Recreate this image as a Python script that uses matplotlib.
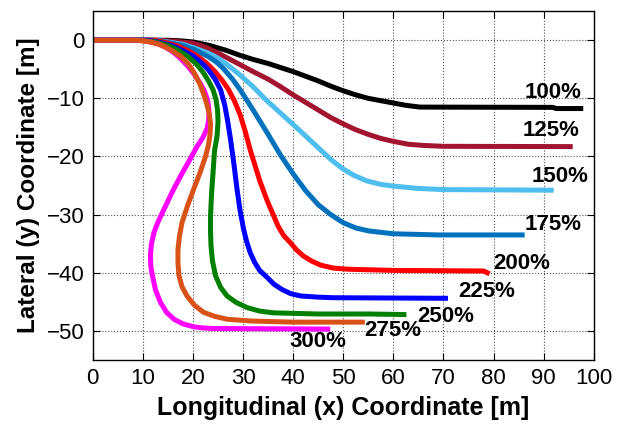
import matplotlib
matplotlib.use("Agg")
import matplotlib.pyplot as plt

plt.rcParams['font.family'] = ['Liberation Sans', 'DejaVu Sans']

# Vehicle paths (x, y) in metres for each steering input level
x_100 = [0, 15, 17.5, 20, 23.3, 26.5, 29.4, 32, 35, 37.5, 40, 42.5, 45, 47.5, 50, 52.5,
         55, 57.5, 60, 62.5, 65.3, 91.8, 92.5, 97.9]
y_100 = [0, 0, -0.1, -0.3, -0.9, -1.7, -2.6, -3.3, -4.0, -4.7, -5.4, -6.2, -7.0, -7.9, -8.7, -9.4,
         -10.0, -10.4, -10.8, -11.2, -11.5, -11.55, -11.75, -11.75]

x_125 = [0, 13, 16.5, 20, 22.5, 25, 27.2, 29.4, 32, 35, 37.5, 40, 42.5, 45, 47.5, 50,
         52.5, 55, 57.5, 60, 63, 66, 70, 95.8]
y_125 = [0, 0, -0.2, -0.5, -1.2, -2.2, -3.2, -4.2, -5.4, -6.7, -8.0, -9.4, -10.7, -12.0, -13.3, -14.4,
         -15.4, -16.2, -16.9, -17.4, -17.9, -18.1, -18.25, -18.3]

x_150 = [0, 12, 15, 18, 20.5, 23, 24.8, 26.5, 28, 29.4, 32, 34.5, 37.3, 40, 42.5, 45,
         47.5, 49.7, 52, 54.7, 57.5, 60, 65, 70, 92.0]
y_150 = [0, 0, -0.3, -0.7, -1.4, -2.2, -3.0, -4.0, -5.0, -6.0, -8.0, -10.2, -12.4, -14.5, -16.5, -18.5,
         -20.5, -22.0, -23.2, -24.2, -24.8, -25.1, -25.5, -25.7, -25.8]

x_175 = [0, 12, 15, 18, 20.5, 23, 24.6, 26, 27.8, 29.4, 32, 35, 37.5, 40, 42.5, 45,
         47.5, 50, 52.5, 55, 60, 69, 86.2]
y_175 = [0, 0, -0.4, -0.9, -1.7, -2.8, -3.7, -4.8, -6.6, -8.5, -12.0, -16.2, -19.8, -23.0, -25.9, -28.3,
         -30.0, -31.4, -32.3, -32.8, -33.3, -33.5, -33.5]

x_200 = [0, 12, 14.5, 17, 19, 21, 22.8, 24.5, 25.9, 27.1, 28.3, 29.4, 30.4, 31.4, 32.4, 33.3,
         34.2, 35, 36, 37, 38.1, 39.4, 40.7, 42, 43.7, 45.5, 48, 51, 60, 78, 79.2]
y_200 = [0, 0, -0.4, -1.0, -1.8, -2.8, -4.0, -5.5, -7.0, -8.5, -10.5, -12.8, -15.6, -18.8, -21.6, -24.1,
         -26.2, -28.0, -30.0, -32.0, -33.6, -34.8, -36.1, -37.1, -38.0, -38.7, -39.2, -39.4, -39.6, -39.7, -40.2]

x_225 = [0, 11, 13.5, 16, 18, 20, 21.6, 23, 24.4, 25.5, 26.3, 26.9, 27.5, 28.2, 28.8, 29.4,
         30.1, 30.7, 31.4, 32.3, 33.3, 34.8, 36.2, 37.8, 39.5, 41.5, 45, 48, 70.9]
y_225 = [0, 0, -0.4, -1.0, -1.8, -2.7, -3.8, -5.0, -6.7, -8.5, -11.0, -13.8, -17.1, -21.5, -25.7, -29.3,
         -32.5, -34.6, -36.5, -38.2, -39.6, -40.8, -42.0, -42.9, -43.6, -44.0, -44.2, -44.3, -44.4]

x_250 = [0, 10, 12.5, 15, 17, 19, 20.7, 22, 23.1, 24, 24.6, 24.9, 25.0, 24.8, 24.3, 24.0,
         23.7, 23.5, 23.5, 23.6, 23.9, 24.5, 25.5, 26.8, 28.6, 30.8, 33.3, 36, 45, 55, 62.6]
y_250 = [0, 0, -0.3, -0.9, -1.7, -2.8, -4.1, -5.5, -7.0, -8.5, -10.2, -12.0, -14.0, -16.5, -19.0, -22.8,
         -26.5, -30.3, -33.0, -35.4, -38.0, -40.5, -42.5, -44.0, -45.1, -46.0, -46.6, -46.9, -47.1, -47.1, -47.2]

x_275 = [0, 9, 11.5, 13.6, 15.7, 17.6, 19.1, 20.3, 21.4, 22.3, 22.9, 23.3, 23.5, 23.4, 23.1, 22.5,
         21.4, 20.1, 18.9, 17.8, 17.3, 17.0, 17.0, 17.2, 17.8, 18.8, 20.3, 22.1, 24.3, 26.8, 31.4, 40, 54.3]
y_275 = [0, 0, -0.3, -0.8, -1.7, -2.8, -4.1, -5.7, -7.6, -9.7, -11.4, -13.0, -14.5, -16.2, -18.0, -20.0,
         -22.8, -25.7, -28.5, -31.4, -33.7, -36.0, -38.3, -40.5, -42.4, -44.0, -45.6, -46.8, -47.5, -48.0, -48.3, -48.5, -48.5]

x_300 = [0, 9, 11, 13, 14.5, 16, 17.5, 19, 20.3, 21.5, 22.3, 22.8, 23.1, 23.2, 23.1, 22.8,
         22.0, 20.8, 19.2, 17.5, 15.8, 14.2, 13.0, 12.2, 11.7, 11.5, 11.6, 11.9, 12.5, 13.5, 14.7,
         16.2, 18.0, 20.1, 22, 24.1, 47.4]
y_300 = [0, 0, -0.2, -0.6, -1.2, -2.0, -3.1, -4.5, -5.9, -7.5, -8.8, -10.0, -11.3, -12.5, -13.9, -15.2,
         -16.7, -18.3, -20.8, -23.4, -26.2, -29.1, -31.3, -33.1, -35.1, -37.1, -39.0, -40.5, -42.9, -45.1, -46.8,
         -48.0, -48.8, -49.3, -49.5, -49.6, -49.7]

labels = ['100%', '125%', '150%', '175%', '200%', '225%', '250%', '275%', '300%']
colors = ['#000000', '#A2142F', '#4DBEEE', '#0072BD', '#FF0000',
          '#0000FF', '#008000', '#D95319', '#FF00FF']
paths = [(x_100, y_100), (x_125, y_125), (x_150, y_150), (x_175, y_175),
         (x_200, y_200), (x_225, y_225), (x_250, y_250), (x_275, y_275),
         (x_300, y_300)]

# where each percentage tag sits
label_x = [91.8, 91.4, 93.2, 91.8, 85.6, 78.7, 70.5, 59.8, 45.0]
label_y = [-9.0, -15.6, -23.4, -31.7, -38.4, -43.3, -47.5, -50.0, -51.9]

fig = plt.figure(figsize=(6.27, 4.30), dpi=100)
ax = fig.add_axes([0.148, 0.163, 0.799, 0.811])

# draw 300% before 275% so the orange path stays on top near the start
order = [0, 1, 2, 3, 4, 5, 6, 8, 7]
for i in order:
    xs, ys = paths[i]
    ax.plot(xs, ys, color=colors[i], linewidth=3.6,
            solid_joinstyle='round', solid_capstyle='butt')

for i in range(len(labels)):
    ax.text(label_x[i], label_y[i], labels[i], fontsize=16, fontweight='bold',
            ha='center', va='center', color='black')

ax.set_xlim(0, 100)
ax.set_ylim(-55, 5)
ax.set_xticks(range(0, 101, 10))
ax.set_yticks(range(-50, 1, 10))
ax.grid(True, linestyle=':', color='#505050', linewidth=0.8)
ax.tick_params(direction='in', top=True, right=True, length=5,
               labelsize=16, pad=6)
for s in ax.spines.values():
    s.set_linewidth(1.0)

ax.set_xlabel('Longitudinal (x) Coordinate [m]', fontsize=18, fontweight='bold', labelpad=5)
ax.set_ylabel('Lateral (y) Coordinate [m]', fontsize=17.5, fontweight='bold', labelpad=5)

fig.savefig('out.png', dpi=100)
